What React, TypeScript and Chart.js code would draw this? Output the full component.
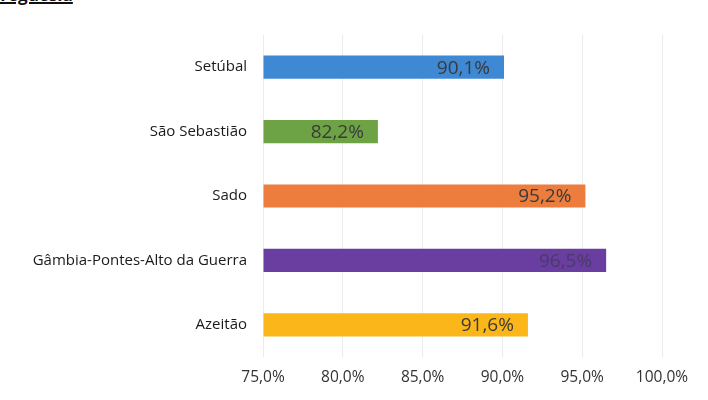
import React, { useEffect, useRef } from "react";
import { Chart, registerables } from "chart.js";

Chart.register(...registerables);

const categories = ["Setúbal", "São Sebastião", "Sado", "Gâmbia-Pontes-Alto da Guerra", "Azeitão"];
const values = [90.1, 82.2, 95.2, 96.5, 91.6];
const barColors = ["#3f88d4", "#6ea345", "#ec7d3c", "#6a3ea1", "#fbb71a"];
const tickValues = [75, 80, 85, 90, 95, 100];
const titleText = "Freguesia";

const fmt = (v: number) => v.toFixed(1).replace(".", ",") + "%";

const FONT = "'Open Sans', 'Noto Sans', sans-serif";

const labelPlugin = {
  id: "barLabels",
  afterDatasetsDraw(chart: any) {
    const ctx = chart.ctx;
    const meta = chart.getDatasetMeta(0);
    ctx.save();
    ctx.font = `19px ${FONT}`;
    ctx.textAlign = "right";
    ctx.textBaseline = "middle";
    meta.data.forEach((bar: any, i: number) => {
      ctx.fillStyle = i === 3 ? "#4a3a6a" : "#3a3a3a";
      ctx.fillText(fmt(values[i]), bar.x - 14, bar.y + 1);
    });
    ctx.restore();
  },
};

export default function App() {
  const ref = useRef<HTMLCanvasElement | null>(null);
  useEffect(() => {
    if (!ref.current) return;
    const chart = new Chart(ref.current, {
      type: "bar",
      data: {
        labels: categories,
        datasets: [
          {
            data: values,
            backgroundColor: barColors,
            base: 75,
            barPercentage: 0.36,
            categoryPercentage: 1,
          },
        ],
      },
      options: {
        indexAxis: "y",
        animation: false,
        responsive: false,
        maintainAspectRatio: false,
        layout: { padding: { top: 35, right: 46, left: 0, bottom: 0 } },
        plugins: { legend: { display: false }, tooltip: { enabled: false } },
        scales: {
          x: {
            min: 75,
            max: 100,
            afterFit: (s: any) => { s.height = 43; },
            afterBuildTicks: (s: any) => { s.ticks = tickValues.map((v) => ({ value: v })); },
            grid: { color: "#ececec", drawTicks: false },
            border: { display: false },
            ticks: {
              padding: 11,
              color: "#333",
              font: { family: FONT, size: 15.5 },
              callback: (v: any) => fmt(Number(v)),
            },
          },
          y: {
            afterFit: (s: any) => { s.width = 263; },
            grid: { display: false, drawTicks: false },
            border: { display: false },
            ticks: {
              padding: 16,
              color: "#1a1a1a",
              font: { family: FONT, size: 15 },
            },
          },
        },
      },
      plugins: [labelPlugin],
    });
    return () => chart.destroy();
  }, []);
  return (
    <div style={{ position: "fixed", left: 0, top: 0, width: 708, height: 400, background: "#fff", overflow: "hidden" }}>
      <div
        style={{
          position: "absolute",
          left: -9,
          top: -17,
          fontFamily: FONT,
          fontWeight: 700,
          fontSize: 17,
          textDecoration: "underline",
          textDecorationThickness: "2px",
          color: "#111",
        }}
      >
        {titleText}
      </div>
      <canvas ref={ref} width={708} height={400} style={{ position: "absolute", left: 0, top: 0 }} />
    </div>
  );
}
